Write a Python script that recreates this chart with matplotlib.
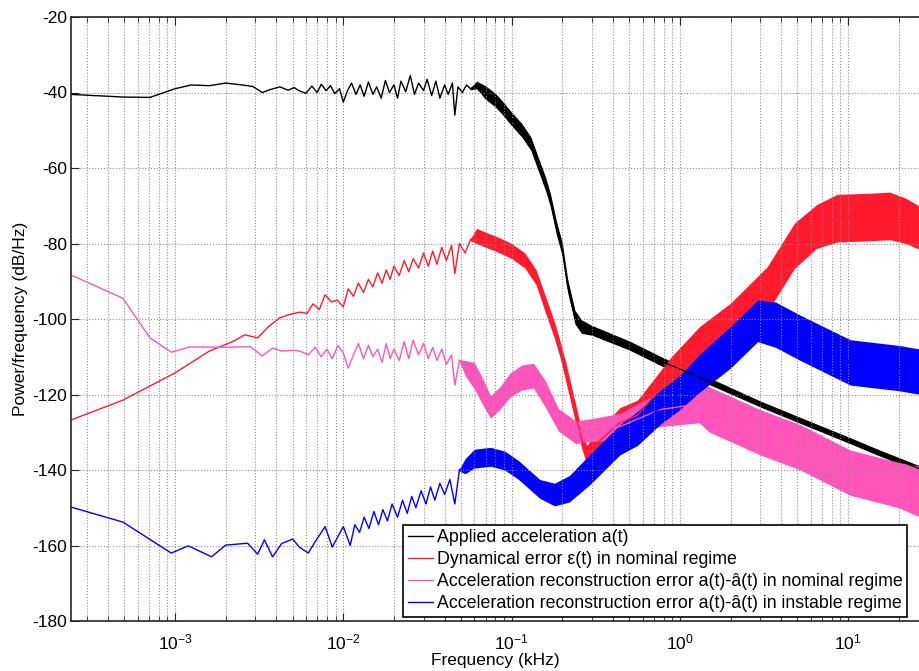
import numpy as np
import matplotlib
matplotlib.use("Agg")
import matplotlib.pyplot as plt
from matplotlib.ticker import LogLocator, NullFormatter

plt.rcParams['font.family'] = ['Liberation Sans', 'DejaVu Sans']
plt.rcParams['mathtext.fontset'] = 'custom'
plt.rcParams['mathtext.rm'] = 'Liberation Sans'
plt.rcParams['mathtext.it'] = 'Liberation Sans'
plt.rcParams['axes.unicode_minus'] = False

# ================================
# DATA (kHz, dB/Hz)
# low-frequency part: thin wiggly line
# high-frequency part: noisy band (mid +/- half width)
# ================================

# --- applied acceleration a(t)
black_f_line = [2.4e-4, 4.9e-4, 7.1e-4, 1.0e-3, 1.25e-3, 1.6e-3, 2.0e-3, 2.5e-3, 2.9e-3, 3.3e-3,
                3.7e-3, 4.2e-3, 4.7e-3, 5.1e-3, 5.5e-3, 6.0e-3, 6.5e-3, 7.0e-3, 7.4e-3, 7.9e-3,
                8.4e-3, 8.9e-3, 9.5e-3, 1.0e-2, 1.06e-2, 1.12e-2, 1.19e-2, 1.26e-2, 1.33e-2, 1.41e-2,
                1.5e-2, 1.58e-2, 1.68e-2, 1.78e-2, 1.88e-2, 2.0e-2, 2.1e-2, 2.2e-2, 2.35e-2, 2.5e-2,
                2.65e-2, 2.8e-2, 3.0e-2, 3.15e-2, 3.35e-2, 3.55e-2, 3.75e-2, 4.0e-2, 4.2e-2, 4.45e-2,
                4.6e-2, 4.8e-2, 5.1e-2, 5.4e-2, 5.7e-2]
black_db_line = [-40.5, -41.2, -41.3, -39.0, -38.0, -38.2, -37.5, -38.0, -38.4, -40.0,
                 -39.2, -38.5, -39.4, -38.7, -39.6, -40.2, -38.3, -40.0, -37.8, -39.5,
                 -38.2, -40.3, -39.0, -42.5, -39.5, -37.5, -40.5, -38.0, -41.0, -37.2,
                 -40.5, -38.5, -41.5, -36.8, -40.0, -38.0, -41.5, -37.0, -39.8, -35.5,
                 -40.5, -37.5, -39.5, -36.5, -40.8, -37.0, -41.5, -38.0, -40.5, -37.5,
                 -46.0, -38.5, -40.0, -38.0, -39.0]
black_f_band = [0.057, 0.062, 0.07, 0.08, 0.09, 0.1, 0.115, 0.13, 0.147, 0.16, 0.17, 0.185, 0.2,
                0.215, 0.238, 0.26, 0.3, 0.5, 0.8, 1.5, 3.0, 6.0, 10.0, 15.0, 20.0, 27.0]
black_mid = [-39.0, -38.0, -40.0, -42.0, -44.5, -47.0, -50.0, -53.5, -60.0, -64.5, -68.5, -76.0, -81.5,
             -91.0, -99.5, -102.0, -103.0, -107.0, -111.5, -116.5, -122.5, -128.0, -132.0, -135.3,
             -137.5, -139.8]
black_hw = [0.3, 1.0, 1.8, 1.8, 1.8, 1.8, 1.8, 1.8, 1.8, 1.8, 1.8, 1.8, 1.8,
            1.8, 1.8, 1.8, 1.3, 1.2, 1.2, 0.9, 0.8, 0.8, 0.8, 0.8, 0.8, 0.8]

# --- dynamical error eps(t), nominal regime
red_f_line = [2.4e-4, 4.9e-4, 1.0e-3, 1.6e-3, 2.2e-3, 2.6e-3, 3.1e-3, 3.6e-3, 4.2e-3, 4.8e-3,
              5.5e-3, 6.1e-3, 6.6e-3, 7.2e-3, 7.8e-3, 8.5e-3, 9.2e-3, 1.0e-2, 1.07e-2, 1.15e-2,
              1.23e-2, 1.32e-2, 1.41e-2, 1.5e-2, 1.6e-2, 1.7e-2, 1.8e-2, 1.9e-2, 2.0e-2, 2.15e-2,
              2.3e-2, 2.45e-2, 2.6e-2, 2.8e-2, 3.0e-2, 3.2e-2, 3.4e-2, 3.6e-2, 3.85e-2, 4.1e-2,
              4.4e-2, 4.6e-2, 4.9e-2, 5.3e-2, 5.7e-2]
red_db_line = [-126.8, -121.5, -114.3, -108.5, -106.0, -104.2, -105.0, -102.0, -99.7, -98.8,
               -98.2, -98.5, -96.0, -97.5, -93.6, -95.5, -95.0, -96.8, -92.0, -94.0,
               -90.5, -93.0, -89.5, -91.5, -87.8, -90.5, -87.0, -89.5, -86.0, -88.5,
               -84.5, -87.5, -84.0, -86.5, -82.5, -86.0, -82.0, -85.5, -81.0, -84.5,
               -80.5, -88.0, -80.0, -82.5, -79.0]
red_f_band = [0.057, 0.062, 0.07, 0.08, 0.09, 0.1, 0.12, 0.14, 0.158, 0.18, 0.194, 0.21, 0.24, 0.26,
              0.28, 0.32, 0.38, 0.44, 0.56, 0.89, 1.31, 2.0, 3.3, 4.8, 6.5, 8.6, 13.0, 17.7, 22.0, 27.0]
red_mid = [-79.0, -78.0, -79.0, -80.0, -81.0, -82.0, -84.5, -89.0, -95.8, -103.0, -108.0, -114.0,
           -125.0, -131.5, -136.0, -133.0, -130.0, -127.5, -125.5, -115.0, -107.0, -101.3, -92.2,
           -80.6, -75.5, -73.3, -73.0, -72.7, -74.0, -76.0]
red_hw = [0.3, 2.0, 2.0, 2.0, 2.0, 2.0, 2.0, 2.0, 2.2, 2.2, 2.2, 2.5, 2.5, 2.5,
          2.5, 3.0, 3.5, 4.0, 4.0, 5.0, 5.0, 5.5, 6.0, 6.0, 5.8, 6.3, 6.3, 6.3, 6.0, 5.7]

# --- reconstruction error, nominal regime
pink_f_line = [2.4e-4, 4.9e-4, 7.1e-4, 9.5e-4, 1.23e-3, 2.0e-3, 2.8e-3, 3.3e-3, 3.8e-3, 4.3e-3,
               5.0e-3, 5.5e-3, 6.2e-3, 6.8e-3, 7.4e-3, 8.0e-3, 8.6e-3, 9.3e-3, 1.0e-2, 1.07e-2,
               1.15e-2, 1.23e-2, 1.32e-2, 1.41e-2, 1.5e-2, 1.6e-2, 1.7e-2, 1.8e-2, 1.9e-2, 2.0e-2,
               2.15e-2, 2.3e-2, 2.45e-2, 2.6e-2, 2.8e-2, 3.0e-2, 3.2e-2, 3.4e-2, 3.6e-2, 3.85e-2,
               4.1e-2, 4.4e-2, 4.6e-2, 4.9e-2]
pink_db_line = [-88.3, -94.5, -105.0, -108.8, -107.4, -107.5, -107.3, -109.8, -107.7, -108.5,
                -108.3, -108.5, -109.5, -107.5, -110.0, -108.0, -110.5, -107.0, -109.0, -113.0,
                -109.5, -106.5, -110.5, -107.0, -110.0, -108.0, -111.5, -106.5, -110.5, -108.0,
                -111.0, -106.0, -110.5, -105.6, -109.5, -106.5, -110.5, -107.5, -111.0, -108.0,
                -112.0, -109.5, -117.5, -111.0]
pink_f_band = [4.9e-2, 5.3e-2, 6.0e-2, 6.7e-2, 7.5e-2, 8.5e-2, 9.8e-2, 0.115, 0.135, 0.158, 0.19,
               0.24, 0.29, 0.44, 0.76, 1.3, 1.5, 3.0, 5.2, 10.3, 20.0, 27.0]
pink_mid = [-111.0, -113.0, -115.0, -119.0, -123.3, -121.0, -117.5, -115.5, -115.0, -119.7, -126.7,
            -130.0, -129.5, -128.5, -124.0, -122.5, -124.0, -130.0, -134.0, -140.7, -144.0, -145.8]
pink_hw = [0.3, 2.0, 3.5, 3.5, 3.0, 3.0, 3.2, 3.3, 3.3, 3.5, 3.0,
           3.0, 3.0, 3.5, 4.5, 5.0, 6.0, 6.0, 6.0, 6.0, 6.0, 6.8]

# --- reconstruction error, instable regime
blue_f_line = [2.4e-4, 4.9e-4, 9.5e-4, 1.2e-3, 1.65e-3, 2.0e-3, 2.7e-3, 3.1e-3, 3.4e-3, 3.8e-3,
               4.3e-3, 5.0e-3, 5.5e-3, 6.2e-3, 6.8e-3, 7.8e-3, 8.6e-3, 1.0e-2, 1.1e-2, 1.17e-2,
               1.25e-2, 1.33e-2, 1.42e-2, 1.52e-2, 1.62e-2, 1.72e-2, 1.83e-2, 1.95e-2, 2.1e-2, 2.25e-2,
               2.4e-2, 2.55e-2, 2.7e-2, 2.9e-2, 3.1e-2, 3.3e-2, 3.5e-2, 3.75e-2, 4.0e-2, 4.3e-2,
               4.6e-2, 4.9e-2]
blue_db_line = [-149.8, -153.8, -162.0, -160.1, -163.0, -159.9, -159.4, -162.3, -158.5, -163.0,
                -159.5, -158.3, -160.5, -162.0, -159.0, -155.0, -160.4, -155.0, -160.0, -154.5,
                -156.5, -152.5, -155.5, -151.0, -154.5, -150.5, -153.5, -149.0, -152.5, -148.0,
                -151.5, -147.0, -150.0, -145.5, -149.0, -144.5, -148.0, -143.5, -146.5, -142.5,
                -149.0, -140.0]
blue_f_band = [4.9e-2, 5.3e-2, 6.0e-2, 7.5e-2, 9.1e-2, 0.11, 0.147, 0.18, 0.22, 0.29, 0.44, 0.56,
               0.76, 1.0, 1.3, 2.0, 2.9, 3.7, 5.2, 10.3, 20.0, 27.0]
blue_mid = [-140.0, -139.0, -137.0, -136.5, -137.5, -140.0, -145.0, -146.5, -145.0, -140.0, -132.0,
            -129.0, -123.5, -119.5, -114.5, -107.5, -100.5, -101.5, -105.0, -111.5, -113.0, -114.0]
blue_hw = [0.3, 2.0, 2.5, 2.5, 2.5, 2.5, 2.5, 3.0, 3.5, 4.0, 4.0, 4.5,
           4.5, 4.5, 5.0, 5.5, 5.5, 6.0, 6.0, 6.0, 6.0, 6.0]

labels = ["Applied acceleration a(t)",
          "Dynamical error \u03b5(t) in nominal regime",
          "Acceleration reconstruction error a(t)-\u00e2(t) in nominal regime",
          "Acceleration reconstruction error a(t)-\u00e2(t) in instable regime"]
colors = ["#000000", "#ff1a2e", "#ff55bb", "#0000ff"]

series = [
    (black_f_line, black_db_line, black_f_band, black_mid, black_hw),
    (red_f_line, red_db_line, red_f_band, red_mid, red_hw),
    (pink_f_line, pink_db_line, pink_f_band, pink_mid, pink_hw),
    (blue_f_line, blue_db_line, blue_f_band, blue_mid, blue_hw),
]

# ================================
# PLOT
# ================================
fig = plt.figure(figsize=(9.2, 6.71), dpi=100)
ax = fig.add_axes([71 / 920, 50 / 671, 849 / 920, 604 / 671])

for (fl, dl, fb, mid, hw), col, lab in zip(series, colors, labels):
    mid = np.array(mid)
    hw = np.array(hw)
    ax.plot(fl, dl, color=col, lw=1.0, label=lab)
    ax.plot(fb, mid, color=col, lw=1.0)
    ax.fill_between(fb, mid - hw, mid + hw, color=col, lw=0)

ax.set_xscale("log")
ax.set_xlim(10 ** -3.618, 10 ** 1.427)
ax.set_ylim(-180, -20)
ax.set_yticks(np.arange(-180, -19, 20))
ax.xaxis.set_major_locator(LogLocator(base=10, numticks=10))
ax.xaxis.set_minor_locator(LogLocator(base=10, subs=np.arange(2, 10), numticks=20))
ax.xaxis.set_minor_formatter(NullFormatter())

ax.grid(True, which="major", axis="both", linestyle=":", color="#8c8c8c", lw=0.8)
ax.grid(True, which="minor", axis="x", linestyle=":", color="#8c8c8c", lw=0.8)

ax.tick_params(which="both", direction="in", top=True, right=False, labelsize=12.5,
               color="#262626")
ax.tick_params(axis="y", pad=3)
ax.tick_params(axis="x", pad=8)
ax.tick_params(which="major", length=6)
ax.tick_params(which="minor", length=3.5)
for side in ["left", "bottom", "top"]:
    ax.spines[side].set_color("#262626")
    ax.spines[side].set_linewidth(1.2)
ax.spines["right"].set_visible(False)

ax.set_xlabel("Frequency (kHz)", fontsize=12.5, labelpad=1)
ax.set_ylabel("Power/frequency (dB/Hz)", fontsize=12.5, labelpad=3)

leg = ax.legend(loc="lower right", bbox_to_anchor=(0.985, 0.007), fontsize=12.8,
                frameon=True, fancybox=False, framealpha=1, edgecolor="#000000",
                handlelength=1.4, handletextpad=0.25, labelspacing=0.28,
                borderpad=0.25, borderaxespad=0)
leg.get_frame().set_linewidth(1.2)

plt.savefig("out.png", dpi=100)
